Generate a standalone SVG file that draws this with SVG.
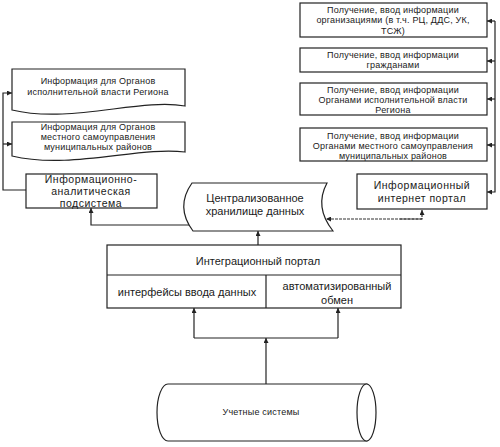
<svg xmlns="http://www.w3.org/2000/svg" width="500" height="447" viewBox="0 0 500 447">
<style>
.s{fill:#fff;stroke:#222;stroke-width:1.2}
.c{fill:none;stroke:#222;stroke-width:1.2}
.d{fill:none;stroke:#333;stroke-width:1.2;stroke-dasharray:3,1}
text{font-family:"Liberation Sans",Arial,sans-serif;fill:#1a1a1a;text-anchor:middle}
.t9{font-size:9px;letter-spacing:0.2px}
.t11{font-size:11px}
.t12{font-size:10.5px;letter-spacing:0.5px}
</style>
<defs>
<marker id="a" viewBox="0 0 10 10" refX="10" refY="5" markerWidth="5" markerHeight="5" orient="auto" markerUnits="userSpaceOnUse">
<path d="M0,0 L10,5 L0,10 Z" fill="#222"/>
</marker>
</defs>
<rect width="500" height="447" fill="#fff"/>

<g id="connectors">
<path class="c" d="M26,190 H3 V93 H12" marker-end="url(#a)"/>
<path class="c" d="M3,144 H12" marker-end="url(#a)"/>
<path class="c" d="M193,225 H91 V208" marker-end="url(#a)"/>
<path class="c" d="M258,245 V231" marker-end="url(#a)"/>
<path class="d" d="M422,219 H326" marker-end="url(#a)"/>
<path class="d" d="M400,219 H422 V210" marker-end="url(#a)"/>
<path class="c" d="M495,21 V192 H487" marker-end="url(#a)"/>
<path class="c" d="M495,21 H487" marker-end="url(#a)"/>
<path class="c" d="M495,61 H487" marker-end="url(#a)"/>
<path class="c" d="M495,99 H487" marker-end="url(#a)"/>
<path class="c" d="M495,145 H487" marker-end="url(#a)"/>
<path class="c" d="M266,384 V338" marker-end="url(#a)"/>
<path class="c" d="M194,338 H338"/>
<path class="c" d="M194,338 V308" marker-end="url(#a)"/>
<path class="c" d="M338,338 V308" marker-end="url(#a)"/>
</g>

<g id="doc1">
<path class="s" d="M12,69 H185 V106 C140,98 70,124 12,110 Z"/>
<text class="t9" x="98" y="84">Информация для Органов</text>
<text class="t9" x="98" y="95">исполнительной власти Региона</text>
</g>

<g id="doc2">
<path class="s" d="M12,122 H185 V152 C140,146 70,170 12,156 Z"/>
<text class="t9" x="98" y="130">Информация для Органов</text>
<text class="t9" x="98" y="140">местного самоуправления</text>
<text class="t9" x="98" y="150">муниципальных районов</text>
</g>

<g id="ia">
<rect class="s" x="26" y="174" width="131" height="34"/>
<text class="t12" x="91" y="183">Информационно-</text>
<text class="t12" x="91" y="195">аналитическая</text>
<text class="t12" x="91" y="207">подсистема</text>
</g>

<g id="storage">
<path class="s" d="M192,183 H327 Q314,207 333,231 H193 Q175,207 192,183 Z"/>
<text class="t11" x="255" y="202">Централизованное</text>
<text class="t11" x="255" y="215">хранилище данных</text>
</g>

<g id="r1">
<rect class="s" x="300" y="3" width="187" height="34"/>
<text class="t9" x="393" y="12.5">Получение, ввод информации</text>
<text class="t9" x="393" y="23">организациями (в т.ч. РЦ, ДДС, УК,</text>
<text class="t9" x="393" y="33.5">ТСЖ)</text>
</g>
<g id="r2">
<rect class="s" x="300" y="48" width="187" height="24"/>
<text class="t9" x="393" y="57.5">Получение, ввод информации</text>
<text class="t9" x="393" y="68">гражданами</text>
</g>
<g id="r3">
<rect class="s" x="300" y="83" width="187" height="32"/>
<text class="t9" x="393" y="93">Получение, ввод информации</text>
<text class="t9" x="393" y="103">Органами исполнительной власти</text>
<text class="t9" x="393" y="113">Региона</text>
</g>
<g id="r4">
<rect class="s" x="300" y="128" width="187" height="33"/>
<text class="t9" x="393" y="138.5">Получение, ввод информации</text>
<text class="t9" x="393" y="148.5">Органами местного самоуправления</text>
<text class="t9" x="393" y="158.5">муниципальных районов</text>
</g>

<g id="portal">
<rect class="s" x="357" y="174" width="130" height="35"/>
<text class="t12" x="422" y="189">Информационный</text>
<text class="t12" x="422" y="201.5">интернет портал</text>
</g>

<g id="integration">
<rect class="s" x="107" y="245" width="294" height="63"/>
<path class="c" d="M107,275 H401 M266,275 V308"/>
<text class="t11" x="258" y="265">Интеграционный портал</text>
<text class="t11" x="187" y="296">интерфейсы ввода данных</text>
<text class="t11" x="337" y="290">автоматизированный</text>
<text class="t11" x="337" y="304">обмен</text>
</g>

<g id="accounting">
<path class="s" d="M168,384 H367 V441 H168 A11,28.5 0 0 1 168,384 Z"/>
<ellipse class="s" cx="366.5" cy="412.5" rx="9.5" ry="28.5"/>
<text class="t9" x="261" y="415">Учетные системы</text>
</g>
</svg>
